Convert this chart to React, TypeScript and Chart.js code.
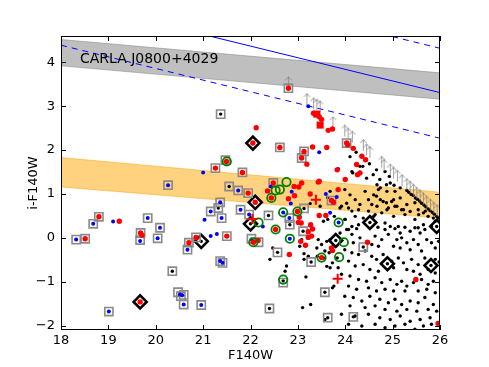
import React, { useEffect, useRef } from 'react';
import { Chart, registerables } from 'chart.js';

Chart.register(...registerables);

type P = [number, number];

const xTicks = [18, 19, 20, 21, 22, 23, 24, 25, 26];
const yTicks = [-2, -1, 0, 1, 2, 3, 4];
const xRange = [18, 26];
const yRange = [-2.1, 4.6];

const annotation = 'CARLA J0800+4029';
const annotationPos: P = [18.4, 3.98];

// shaded bands and relations (values at x = 18 and x = 26)
const bandX = [18, 26];
const grayBandHigh = [4.52, 3.76];
const grayBandLow = [3.92, 3.16];
const orangeBandHigh = [1.83, 1.04];
const orangeBandLow = [1.16, 0.45];
const relationMid = [5.43, 3.31];
const relationUpper = [6.44, 4.32];
const relationLower = [4.39, 2.27];

// field galaxies (small black dots)
const blackDots: P[] = [
  [24.10, 1.85], [24.31, 1.63], [24.16, 1.48], [24.51, 1.69], [24.59, 1.44], [24.66, 1.55], [24.87, 1.21], [24.93, 1.40],
  [25.03, 1.20], [25.16, 1.14], [24.23, 1.95], [24.37, 1.63], [24.14, 1.51], [24.45, 1.36], [24.73, 1.33], [24.84, 1.51],
  [24.95, 1.25], [23.26, 0.78], [23.68, 1.06], [23.85, 1.11], [23.63, 0.92], [23.47, 0.72],
  [23.99, 1.10], [24.10, 0.98], [24.21, 0.87], [23.92, 0.72], [24.07, 0.68], [24.31, 0.76], [24.42, 1.06], [24.49, 0.87],
  [24.56, 0.76], [24.66, 0.95], [24.70, 1.10], [24.80, 0.83], [24.87, 0.80], [24.91, 0.68], [25.02, 0.87], [25.05, 0.72],
  [25.16, 0.91], [25.19, 0.64], [25.30, 0.76], [25.37, 0.60], [25.47, 0.80], [25.54, 0.64], [25.65, 0.57], [25.75, 0.49],
  [24.49, 0.61], [24.63, 0.53], [24.77, 0.57], [24.21, 0.49], [23.99, 0.42], [24.38, 0.45], [25.02, 0.49], [25.26, 0.53],
  [25.47, 0.42], [25.90, 0.38], [25.86, 0.45], [24.28, 0.30], [24.84, 0.34], [25.12, 0.26], [25.65, 0.30], [25.54, 0.23],
  [24.03, 0.19], [24.14, 0.26], [24.00, 0.42], [24.14, 0.61], [24.28, 0.64], [24.60, 0.49], [24.67, 0.72], [24.74, 0.87],
  [24.60, 0.98], [24.74, 1.14], [24.67, 1.21], [24.88, 1.06], [25.05, 1.06], [24.98, 0.83], [25.09, 0.72], [24.88, 0.64],
  [25.23, 0.64], [25.55, 0.53], [25.69, 0.61], [23.89, 0.68], [24.03, 0.79], [23.77, 0.49], [23.63, 0.42], [23.54, 0.38],
  [23.89, 0.11],
  [22.47, -0.23], [22.41, -0.49], [22.76, -0.64], [22.73, -0.76], [23.17, -0.89], [23.27, -1.52], [23.10, -1.59],
  [23.13, -0.36], [23.22, -0.42], [23.57, -1.86], [23.43, -0.04], [23.40, -0.23], [23.50, -0.15], [23.61, -0.08],
  [23.68, -0.04], [23.75, -0.19], [23.57, -0.30], [23.66, -0.34], [23.61, -0.65], [23.68, -0.68], [23.73, -0.57],
  [23.85, -0.68], [23.76, -1.10], [23.73, -1.14], [23.41, -0.42], [23.54, -0.46], [23.83, -0.46], [23.08, -0.04],
  [23.04, -0.19], [23.13, -0.49],
  [24.07, 0.19], [24.24, 0.21], [24.69, 0.24], [24.84, 0.19], [24.95, 0.26], [25.05, 0.21], [25.16, 0.11], [25.26, 0.24],
  [25.37, 0.15], [25.47, 0.23], [25.58, 0.11], [25.68, 0.19], [25.82, 0.26], [24.14, 0.08], [24.31, 0.00], [24.63, 0.04],
  [24.77, -0.04], [24.91, 0.08], [25.09, -0.04], [25.19, 0.00], [25.30, -0.11], [25.44, -0.04], [25.54, -0.15],
  [25.72, -0.04], [25.82, -0.11], [25.97, -0.08], [24.17, -0.11], [24.56, -0.15], [24.70, -0.19], [25.02, -0.19],
  [25.16, -0.23], [25.37, -0.27], [25.61, -0.30], [25.90, -0.23],
  [23.99, -0.27], [24.14, -0.34], [24.28, -0.38], [24.42, -0.30], [24.56, -0.42], [24.66, -0.49], [24.80, -0.38],
  [24.98, -0.53], [25.12, -0.46], [25.23, -0.57], [25.40, -0.49], [25.54, -0.61], [25.68, -0.46], [25.90, -0.49],
  [25.98, -0.55], [24.07, -0.53], [24.21, -0.64], [24.38, -0.61], [24.52, -0.72], [24.70, -0.76], [25.02, -0.68],
  [25.30, -0.72], [25.44, -0.76], [25.58, -0.83], [25.75, -0.72], [25.90, -0.80],
  [23.92, -0.83], [24.10, -0.87], [24.28, -0.95], [24.45, -0.99], [24.63, -0.91], [24.77, -1.02], [24.95, -0.95],
  [25.09, -1.06], [25.19, -0.99], [25.30, -1.10], [25.44, -1.02], [25.61, -0.95], [25.75, -1.06], [25.86, -0.99],
  [24.07, -1.10], [24.24, -1.17], [24.49, -1.14], [24.66, -1.21], [24.84, -1.17], [25.02, -1.21], [25.26, -1.21],
  [25.54, -1.21], [25.72, -1.17], [25.90, -1.25],
  [23.99, -1.33], [24.17, -1.36], [24.35, -1.44], [24.52, -1.33], [24.73, -1.40], [24.91, -1.48], [25.05, -1.40],
  [25.19, -1.52], [25.37, -1.44], [25.54, -1.48], [25.68, -1.36], [25.86, -1.52], [24.10, -1.55], [24.42, -1.59],
  [24.63, -1.55], [24.84, -1.63], [25.09, -1.67], [25.30, -1.63], [25.51, -1.67], [25.75, -1.63], [25.93, -1.67],
  [23.92, -1.74], [24.21, -1.78], [24.49, -1.74], [24.73, -1.82], [24.95, -1.86], [25.16, -1.78], [25.37, -1.90],
  [25.58, -1.86], [25.79, -1.82], [24.07, -1.97], [24.35, -2.01], [24.63, -1.97], [24.84, -2.05], [25.05, -2.01],
  [25.26, -1.97], [25.47, -2.08], [25.65, -2.01], [25.82, -1.97],
  // dots inside squares and diamonds
  [20.35, -0.76], [21.32, 0.68], [21.55, 1.17], [21.37, 2.82], [22.38, 0.51], [22.57, -0.33], [23.28, -0.55],
  [22.40, -1.61], [23.57, -1.24], [23.63, -1.82], [24.17, -1.80], [24.38, -0.21], [22.69, -0.98], [23.11, 0.15],
  [22.83, 0.30], [23.13, 0.67], [20.96, -0.08], [23.80, -0.06], [24.52, 0.35], [24.89, -0.59], [25.81, -0.63],
  [25.93, 0.26], [22.00, 0.32],
  // chain along the detection limit
  [25.30, 1.08], [25.34, 1.04], [25.39, 0.99], [25.43, 0.97], [25.48, 0.91], [25.52, 0.88], [25.57, 0.84], [25.61, 0.79],
  [25.66, 0.75], [25.70, 0.71], [25.75, 0.66], [25.79, 0.62], [25.84, 0.58], [25.88, 0.54], [25.93, 0.49], [25.97, 0.45],
];

const blueDots: P[] = [
  [18.32, -0.04], [18.68, 0.32], [19.10, 0.37], [19.83, 0.45], [19.67, -0.07], [20.04, -0.01], [20.09, 0.23],
  [20.51, -1.29], [20.56, -1.31], [20.59, -1.52], [20.96, -1.53], [19.01, -1.68], [20.67, -0.27], [21.03, 0.41],
  [21.16, 0.60], [21.16, 0.04], [21.29, 0.09], [21.36, 0.81], [21.39, 0.45], [21.36, -0.53], [21.41, -0.57],
  [21.74, 1.08], [21.79, 0.64], [21.00, 1.49], [20.26, 1.20], [21.97, 0.53], [22.43, 1.17], [22.87, 1.05],
  [22.69, 0.58], [22.85, 0.78], [22.82, 0.45], [23.45, 1.95], [23.85, 1.57], [23.22, 3.00], [23.59, 1.00],
  [23.82, 0.93], [23.26, 0.28], [23.68, 0.57], [23.86, 0.35], [22.83, -0.02], [22.26, 0.26], [22.02, -0.04],
];

const redDots: P[] = [
  [18.51, -0.02], [18.80, 0.48], [19.23, 0.38], [19.68, 0.11], [19.71, 0.06], [19.67, -1.46], [20.70, -0.11],
  [20.85, 0.01], [21.50, 0.04], [21.95, 1.02], [21.49, 1.74], [21.26, 1.59], [21.83, 1.49],
  [22.80, 3.41], [22.12, 2.51], [22.05, 2.16], [22.62, 2.06], [23.13, 1.97], [23.08, 1.82], [23.19, 1.68],
  [23.31, 2.07], [23.61, 2.06], [23.33, 2.84], [23.45, 2.76], [23.50, 2.70], [23.64, 2.45], [23.73, 2.48],
  [24.03, 2.16], [24.05, 2.12], [24.17, 2.04], [24.35, 1.86], [24.43, 1.78], [24.24, 1.67], [24.31, 1.48],
  [24.26, 1.44], [24.00, 1.33], [23.83, 1.55], [23.45, 1.29], [23.85, 1.10],
  [22.48, 1.25], [22.36, 1.07], [22.92, 1.17], [23.08, 1.25], [23.02, 1.16], [23.43, 1.27], [23.26, 1.00],
  [22.80, 0.89], [22.93, 0.96], [23.71, 0.85], [23.75, 0.81], [22.10, 0.81], [22.44, 0.91], [22.99, 0.60],
  [23.03, 0.47], [23.01, 0.35], [23.07, 0.34], [23.27, 0.30], [23.31, 0.20], [23.22, 0.14], [23.06, -0.08],
  [23.22, 0.01], [23.29, 0.04], [23.16, -0.17], [22.82, -0.38], [23.45, 0.51], [23.59, 0.51], [23.71, -0.23],
  [23.73, -0.29], [24.47, -0.10], [25.49, -0.95], [25.96, -1.95], [22.06, -0.10], [22.16, -0.06], [22.53, 0.19],
  [23.50, -0.45],
];

const graySquares: P[] = [
  [18.32, -0.04], [18.51, -0.02], [18.68, 0.32], [18.80, 0.48], [19.83, 0.45], [19.68, 0.11], [19.67, -0.05],
  [20.04, -0.01], [20.09, 0.23], [20.35, -0.76], [20.47, -1.24], [20.53, -1.33], [20.59, -1.30], [20.59, -1.52],
  [20.96, -1.53], [19.01, -1.68], [20.67, -0.27], [20.70, -0.11], [20.85, 0.01], [21.16, 0.60], [21.32, 0.68],
  [21.36, 0.81], [21.39, 0.45], [21.36, -0.53], [21.41, -0.57], [21.50, 0.04], [21.55, 1.17], [21.74, 1.08],
  [21.79, 0.64], [21.95, 1.02], [21.97, 0.53], [21.37, 2.82], [21.47, 1.77], [21.26, 1.59], [20.26, 1.20],
  [21.83, 1.49], [22.80, 3.41], [22.62, 2.06], [23.13, 1.97], [23.08, 1.82], [24.03, 2.16], [22.48, 1.25],
  [23.71, 0.85], [22.38, 0.51], [22.82, 0.45], [23.13, 0.67], [23.11, 0.15], [22.83, 0.30], [22.57, -0.33],
  [23.28, -0.55], [24.38, -0.21], [22.40, -1.61], [23.57, -1.24], [23.63, -1.82], [24.17, -1.80], [22.69, -1.02],
  [22.02, -0.02], [22.17, -0.10],
];

const greenCircles: P[] = [
  [21.50, 1.74], [22.62, 1.10], [22.76, 1.27], [22.53, 1.08], [22.44, 0.91], [22.69, 0.58], [22.99, 0.60],
  [22.17, 0.35], [22.53, 0.19], [22.83, -0.02], [22.06, -0.10], [23.50, -0.45], [23.86, 0.35], [23.97, -0.10],
  [23.87, -0.44], [22.69, -0.95],
];

const blackDiamonds: P[] = [
  [19.67, -1.46], [20.96, -0.08], [22.05, 2.16], [22.10, 0.81], [22.00, 0.32], [23.80, -0.06], [24.52, 0.35],
  [24.89, -0.59], [25.81, -0.63], [25.93, 0.26],
];

const redCrosses: P[] = [[22.04, 0.43], [23.38, 0.87], [23.84, -0.93]];

const redSquares: P[] = [[23.40, 2.82], [23.47, 2.57]];

const upperLimits: P[] = [
  [22.80, 3.41], [23.19, 3.03], [23.33, 2.93], [23.40, 2.90], [23.47, 2.86], [23.74, 2.50], [23.99, 2.31],
  [24.06, 2.24], [24.15, 2.17], [24.38, 1.98], [24.45, 1.88], [24.52, 1.82], [24.77, 1.60], [24.82, 1.53],
  [24.95, 1.42], [25.02, 1.35], [25.10, 1.28], [25.20, 1.18], [25.30, 1.09], [25.37, 1.03], [25.44, 0.96],
  [25.51, 0.89], [25.58, 0.83], [25.65, 0.76], [25.72, 0.69], [25.80, 0.62], [25.87, 0.55], [25.94, 0.49],
];

const toPts = (list: P[]) => list.map(([x, y]) => ({ x, y }));
const linePts = (ys: number[]) => bandX.map((x, i) => ({ x, y: ys[i] }));
const fmt = (v: number) => (v < 0 ? '\u2212' + Math.abs(v) : String(v));

export default function App() {
  const ref = useRef<HTMLCanvasElement | null>(null);

  useEffect(() => {
    if (!ref.current) return;
    const arrow = document.createElement('canvas');
    arrow.width = 9;
    arrow.height = 26;
    const a = arrow.getContext('2d')!;
    a.strokeStyle = 'rgba(130,130,130,0.75)';
    a.lineWidth = 1;
    a.beginPath();
    a.moveTo(4.5, 13);
    a.lineTo(4.5, 1.5);
    a.moveTo(1.5, 5);
    a.lineTo(4.5, 1.5);
    a.lineTo(7.5, 5);
    a.stroke();

    const framePlugin = {
      id: 'frameTicks',
      afterDatasetsDraw(chart: any) {
        const { ctx, chartArea } = chart;
        const { left, right, top, bottom } = chartArea;
        const xs = chart.scales.x;
        const ys = chart.scales.y;
        ctx.save();
        ctx.strokeStyle = '#000';
        ctx.lineWidth = 1;
        ctx.beginPath();
        xTicks.forEach((v) => {
          const px = Math.round(xs.getPixelForValue(v)) + 0.5;
          ctx.moveTo(px, bottom);
          ctx.lineTo(px, bottom - 5);
          ctx.moveTo(px, top);
          ctx.lineTo(px, top + 5);
        });
        yTicks.forEach((v) => {
          const py = Math.round(ys.getPixelForValue(v)) + 0.5;
          ctx.moveTo(left, py);
          ctx.lineTo(left + 5, py);
          ctx.moveTo(right, py);
          ctx.lineTo(right - 5, py);
        });
        ctx.stroke();
        ctx.strokeRect(left + 0.5, top + 0.5, right - left - 1, bottom - top - 1);
        ctx.fillStyle = '#000';
        ctx.font = '14px "DejaVu Sans"';
        ctx.textBaseline = 'alphabetic';
        ctx.textAlign = 'left';
        ctx.fillText(annotation, xs.getPixelForValue(annotationPos[0]), ys.getPixelForValue(annotationPos[1]));
        ctx.restore();
      },
    };

    const lineDs = (ys: number[], color: string, dash: number[], order: number) => ({
      data: linePts(ys),
      showLine: true,
      borderColor: color,
      borderWidth: 1,
      borderDash: dash,
      pointRadius: 0,
      fill: false,
      order,
    });

    const chart = new Chart(ref.current, {
      type: 'scatter',
      data: {
        datasets: [
          {
            data: linePts(grayBandHigh), showLine: true, pointRadius: 0, borderWidth: 1,
            borderColor: 'rgba(128,128,128,0.5)', backgroundColor: 'rgba(128,128,128,0.5)', fill: '+1', order: 100,
          },
          {
            data: linePts(grayBandLow), showLine: true, pointRadius: 0, borderWidth: 1,
            borderColor: 'rgba(128,128,128,0.5)', fill: false, order: 100,
          },
          {
            data: linePts(orangeBandHigh), showLine: true, pointRadius: 0, borderWidth: 1,
            borderColor: 'rgba(255,165,0,0.5)', backgroundColor: 'rgba(255,165,0,0.5)', fill: '+1', order: 100,
          },
          {
            data: linePts(orangeBandLow), showLine: true, pointRadius: 0, borderWidth: 1,
            borderColor: 'rgba(255,165,0,0.5)', fill: false, order: 100,
          },
          lineDs(relationMid, '#0000ff', [], 90),
          lineDs(relationUpper, '#0000ff', [6, 5], 90),
          lineDs(relationLower, '#0000ff', [6, 5], 90),
          {
            data: toPts(blackDiamonds), pointStyle: 'rectRot', pointRadius: 6.5, borderWidth: 2.6,
            borderColor: '#000', backgroundColor: '#fff', order: 80,
          },
          {
            data: toPts(blackDots), pointStyle: 'circle', pointRadius: 1.7, borderWidth: 0,
            backgroundColor: '#000', order: 70,
          },
          {
            data: toPts(upperLimits), pointStyle: arrow, pointRadius: 5, order: 65,
          },
          {
            data: toPts(graySquares), pointStyle: 'rect', pointRadius: 5.8, borderWidth: 1.6,
            borderColor: '#8a8a8a', backgroundColor: 'rgba(0,0,0,0)', order: 60,
          },
          {
            data: toPts(blueDots), pointStyle: 'circle', pointRadius: 2, borderWidth: 0,
            backgroundColor: '#0000ff', order: 50,
          },
          {
            data: toPts(redDots), pointStyle: 'circle', pointRadius: 2.7, borderWidth: 0,
            backgroundColor: '#ff0000', order: 40,
          },
          {
            data: toPts(greenCircles), pointStyle: 'circle', pointRadius: 4.2, borderWidth: 1.8,
            borderColor: '#008000', backgroundColor: 'rgba(0,0,0,0)', order: 30,
          },
          {
            data: toPts(redCrosses), pointStyle: 'cross', pointRadius: 5, borderWidth: 2,
            borderColor: '#ff0000', order: 20,
          },
          {
            data: toPts(redSquares), pointStyle: 'rect', pointRadius: 5, borderWidth: 0,
            backgroundColor: '#ff0000', order: 10,
          },
        ] as any,
      },
      options: {
        animation: false,
        responsive: false,
        devicePixelRatio: 1,
        layout: { padding: { top: 36, right: 49, left: 0, bottom: 0 } },
        plugins: { legend: { display: false }, tooltip: { enabled: false } },
        events: [],
        scales: {
          x: {
            type: 'linear',
            min: xRange[0],
            max: xRange[1],
            afterBuildTicks: (s: any) => { s.ticks = xTicks.map((v) => ({ value: v })); },
            afterFit: (s: any) => { s.height = 37; },
            grid: { display: false, drawTicks: false },
            border: { display: false },
            ticks: {
              color: '#000', padding: 3, maxRotation: 0,
              font: { family: 'DejaVu Sans', size: 13 },
              callback: (v: any) => fmt(Number(v)),
            },
            title: {
              display: true, text: 'F140W', color: '#000',
              font: { family: 'DejaVu Sans', size: 13 }, padding: { top: 0, bottom: 4 },
            },
          },
          y: {
            type: 'linear',
            min: yRange[0],
            max: yRange[1],
            afterBuildTicks: (s: any) => { s.ticks = yTicks.map((v) => ({ value: v })); },
            afterFit: (s: any) => { s.width = 61; },
            grid: { display: false, drawTicks: false },
            border: { display: false },
            ticks: {
              color: '#000', padding: 6,
              font: { family: 'DejaVu Sans', size: 13 },
              callback: (v: any) => fmt(Number(v)),
            },
            title: {
              display: true, text: 'i-F140W', color: '#000',
              font: { family: 'DejaVu Sans', size: 13 }, padding: { top: 26, bottom: 0 },
            },
          },
        },
      } as any,
      plugins: [framePlugin],
    });
    return () => chart.destroy();
  }, []);

  return (
    <div style={{ position: 'fixed', left: 0, top: 0, width: 489, height: 367, background: '#fff' }}>
      <canvas ref={ref} width={489} height={367} style={{ display: 'block', width: 489, height: 367 }} />
    </div>
  );
}
